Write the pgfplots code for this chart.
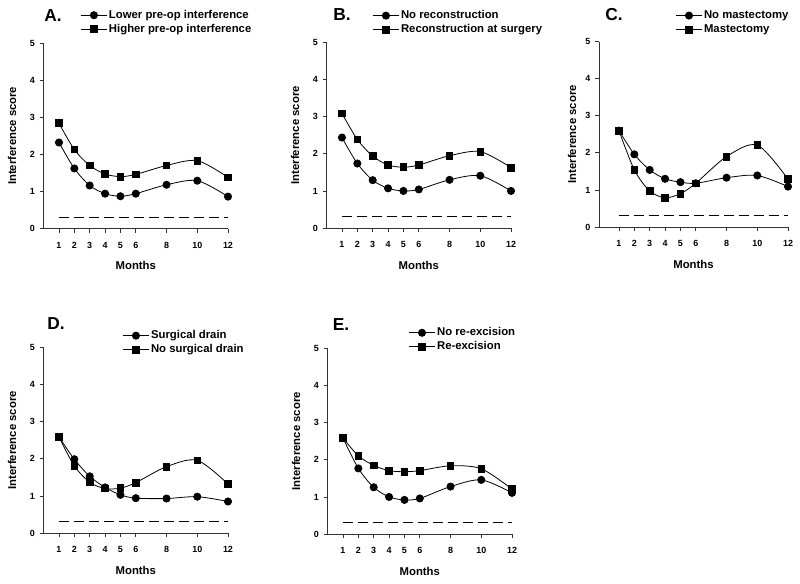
\documentclass[border=0pt]{standalone}
\usepackage{pgfplots}
\pgfplotsset{compat=1.18}
\usepackage{fontspec}
\setmainfont{Liberation Sans}
\tikzset{letter/.style={font=\fontsize{13}{15}\selectfont\bfseries}}
\pgfplotsset{panel/.style={
 scale only axis, width=138.3pt, height=139pt, anchor=south west,
 xmin=0, xmax=12, ymin=0, ymax=5,
 axis x line*=bottom, axis y line*=left, axis line style={-, line width=0.6pt, black!80},
 xtick={1,2,3,4,5,6,8,10,12}, ytick={0,1,2,3,4,5},
 tick align=outside, major tick length=3pt, tick style={line width=0.6pt, black!80},
 ticklabel style={font=\fontsize{6.7}{7}\selectfont\bfseries},
 xticklabel style={yshift=-3.5pt},
 /pgf/number format/assume math mode=true,
 ylabel={Interference score}, xlabel={Months},
 label style={font=\fontsize{8.5}{10}\selectfont\bfseries},
 ylabel style={at={(axis description cs:-0.171,0.5)}, anchor=center},
 xlabel style={at={(axis description cs:0.5,-0.2)}, anchor=center},
 clip=false,
 legend style={draw=none, fill=none, inner sep=0pt, font=\fontsize{8.5}{10}\selectfont\bfseries, row sep=0pt, nodes={inner sep=1pt, text height=6.5pt, text depth=2pt}},
 legend cell align=left,
 legend image code/.code={\draw[mark repeat=2,mark phase=2] plot coordinates {(0pt,0pt)(10pt,0pt)(20pt,0pt)};},
},
circ/.style={black, line width=0.6pt, smooth, mark=*, mark size=2.7pt, mark options={fill=black, solid}},
sq/.style={black, line width=0.6pt, smooth, mark=square*, mark size=2.5pt, mark options={fill=black, solid}},
dsh/.style={black, line width=0.6pt, dash pattern=on 7.5pt off 3.75pt, forget plot},
}
\begin{document}
\begin{tikzpicture}
% Panel A
\begin{axis}[panel, at={(32.7pt,265.875pt)},
  legend style={at={(axis description cs:0.197,1.113)}, anchor=west}]
\addplot[circ] coordinates {(1,2.32) (2,1.62) (3,1.16) (4,0.94) (5,0.87) (6,0.94) (8,1.18) (10,1.29) (12,0.86)};
\addplot[sq] coordinates {(1,2.84) (2,2.13) (3,1.70) (4,1.47) (5,1.40) (6,1.46) (8,1.70) (10,1.83) (12,1.38)};
\addplot[dsh] coordinates {(1,0.3) (12,0.3)};
\legend{Lower pre-op interference, Higher pre-op interference}
\node[letter] at (axis description cs:0.051,1.151) {A.};
\end{axis}
% Panel B
\begin{axis}[panel, at={(244.95pt,266.25pt)},
  legend style={at={(axis description cs:0.246,1.108)}, anchor=west}]
\addplot[circ] coordinates {(1,2.44) (2,1.74) (3,1.29) (4,1.07) (5,1.00) (6,1.04) (8,1.30) (10,1.41) (12,1.00)};
\addplot[sq] coordinates {(1,3.09) (2,2.39) (3,1.94) (4,1.70) (5,1.64) (6,1.70) (8,1.95) (10,2.06) (12,1.63)};
\addplot[dsh] coordinates {(1,0.3) (12,0.3)};
\legend{No reconstruction, Reconstruction at surgery}
\node[letter] at (axis description cs:0.084,1.151) {B.};
\end{axis}
% Panel C
\begin{axis}[panel, at={(449.25pt,267pt)}, xmin=-0.3, width=141.75pt,
  ylabel style={at={(axis description cs:-0.143,0.5)}, anchor=center},
  legend style={at={(axis description cs:0.402,1.103)}, anchor=west}]
\addplot[circ] coordinates {(1,2.60) (2,1.96) (3,1.54) (4,1.30) (5,1.21) (6,1.18) (8,1.33) (10,1.39) (12,1.09)};
\addplot[sq] coordinates {(1,2.60) (2,1.54) (3,0.97) (4,0.79) (5,0.90) (6,1.18) (8,1.90) (10,2.21) (12,1.29)};
\addplot[dsh] coordinates {(1,0.3) (12,0.3)};
\legend{No mastectomy, Mastectomy}
\node[letter] at (axis description cs:0.079,1.146) {C.};
\end{axis}
% Panel D
\begin{axis}[panel, at={(32.7pt,37.5pt)},
  legend style={at={(axis description cs:0.425,1.027)}, anchor=west}]
\addplot[circ] coordinates {(1,2.59) (2,1.99) (3,1.53) (4,1.23) (5,1.03) (6,0.94) (8,0.93) (10,0.98) (12,0.85)};
\addplot[sq] coordinates {(1,2.59) (2,1.81) (3,1.37) (4,1.20) (5,1.21) (6,1.36) (8,1.79) (10,1.96) (12,1.32)};
\addplot[dsh] coordinates {(1,0.3) (12,0.3)};
\legend{Surgical drain, No surgical drain}
\node[letter] at (axis description cs:0.067,1.129) {D.};
\end{axis}
% Panel E
\begin{axis}[panel, at={(245.7pt,36.75pt)},
  legend style={at={(axis description cs:0.436,1.048)}, anchor=west}]
\addplot[circ] coordinates {(1,2.59) (2,1.77) (3,1.26) (4,1.00) (5,0.92) (6,0.96) (8,1.28) (10,1.46) (12,1.11)};
\addplot[sq] coordinates {(1,2.59) (2,2.11) (3,1.85) (4,1.71) (5,1.68) (6,1.71) (8,1.84) (10,1.76) (12,1.21)};
\addplot[dsh] coordinates {(1,0.3) (12,0.3)};
\legend{No re-excision, Re-excision}
\node[letter] at (axis description cs:0.073,1.130) {E.};
\end{axis}
\pgfresetboundingbox
\path (0,0) rectangle (600pt,437.25pt);
\end{tikzpicture}
\end{document}
